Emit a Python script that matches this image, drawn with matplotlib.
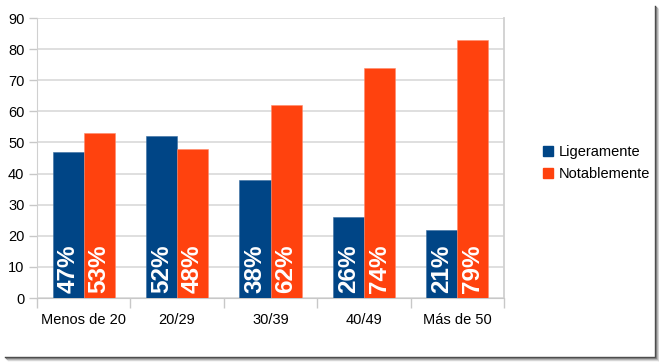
import numpy as np
import matplotlib.pyplot as plt
from matplotlib.patches import Patch
from matplotlib.lines import Line2D

plt.rcParams['font.family'] = ['Liberation Sans', 'DejaVu Sans']

categorias = ['Menos de 20', '20/29', '30/39', '40/49', 'Más de 50']
ligeramente = [47, 52, 38, 26, 22]
notablemente = [53, 48, 62, 74, 83]
etiq_lig = ['47%', '52%', '38%', '26%', '21%']
etiq_not = ['53%', '48%', '62%', '74%', '79%']

azul = '#004586'
naranja = '#ff420e'

W, H = 659, 362
fig = plt.figure(figsize=(W / 100, H / 100), dpi=100)
ax = fig.add_axes([37 / W, 1 - 298 / H, (504 - 37) / W, (298 - 18) / H])

x = np.arange(len(categorias))
bw = 0.332
ax.bar(x - bw / 2, ligeramente, bw, color=azul, edgecolor='#3a6ea0', linewidth=0.4, zorder=3)
ax.bar(x + bw / 2, notablemente, bw, color=naranja, edgecolor='#ff8a6a', linewidth=0.4, zorder=3)

# etiquetas de porcentaje dentro de las barras
for i in range(len(categorias)):
    ax.text(x[i] - bw / 2, 1.5, etiq_lig[i], rotation=90, ha='center', va='bottom',
            color='white', fontsize=17.5, fontweight='bold', zorder=4)
    ax.text(x[i] + bw / 2, 1.5, etiq_not[i], rotation=90, ha='center', va='bottom',
            color='white', fontsize=17.5, fontweight='bold', zorder=4)

ax.set_xlim(-0.5, len(categorias) - 0.5)
ax.set_ylim(0, 90)
ax.set_yticks(range(0, 91, 10))
ax.set_xticks(x)
ax.set_xticklabels(categorias)
ax.set_xticks(np.arange(-0.5, len(categorias), 1), minor=True)
ax.tick_params(axis='x', which='major', length=0, pad=10.5, labelsize=10.5, colors='black')
ax.tick_params(axis='x', which='minor', length=7, width=1, color='#c8c8c8')
ax.tick_params(axis='y', length=6, width=1, color='#c8c8c8', labelsize=10.5, pad=3)

ax.grid(axis='y', color='#dcdcdc', linewidth=1.3, zorder=0)
for s in ['top', 'right']:
    ax.spines[s].set_visible(False)
ax.spines['left'].set_color('#d0d0d0')
ax.spines['bottom'].set_color('#c8c8c8')
ax.plot([1, 1], [0, 1], transform=ax.transAxes, color='#d0d0d0', lw=1.3, clip_on=False, zorder=2)

handles = [Patch(color=azul, label='Ligeramente'), Patch(color=naranja, label='Notablemente')]
fig.legend(handles=handles, loc='center left', bbox_to_anchor=(530 / W, 1 - 163 / H),
           frameon=False, fontsize=10.5, handlelength=0.7, handleheight=0.7,
           handletextpad=0.35, labelspacing=0.55)

# marco con sombra (captura de pantalla)
sombra = ['#444444', '#777777', '#aaaaaa', '#d5d5d5']
for k, c in enumerate(sombra):
    fig.add_artist(Line2D([(655 + k) / W] * 2, [1 - (6 + k) / H, 1 - (357 + k) / H],
                          transform=fig.transFigure, color=c, lw=1.0))
    fig.add_artist(Line2D([(5 + k) / W, (655 + k) / W], [1 - (357 + k) / H] * 2,
                          transform=fig.transFigure, color=c, lw=1.0))

fig.savefig('out.png', dpi=100)
